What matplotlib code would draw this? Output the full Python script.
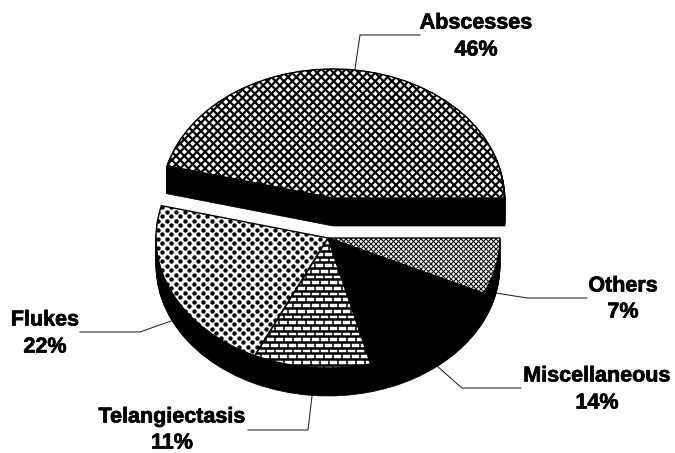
import matplotlib
matplotlib.use('Agg')
import matplotlib.pyplot as plt
import matplotlib.patheffects as pe
import numpy as np
from matplotlib.collections import LineCollection
from matplotlib.patches import Wedge
from matplotlib.transforms import Affine2D

# clockwise from the 3 o'clock position
categories = ['Others', 'Miscellaneous', 'Telangiectasis', 'Flukes', 'Abscesses']
percents = [7, 14, 11, 22, 46]

W, H = 675, 453
RX, RY = 172, 130
DEPTH = 28

# pixel layout
centers = {'Abscesses': (333, 198)}
main_center = (328, 238)
label_pos = {
    'Others': (623, 286, 312),
    'Miscellaneous': (597, 376, 403),
    'Telangiectasis': (172, 417, 443),
    'Flukes': (45, 320, 347),
    'Abscesses': (476, 23, 50),
}
leaders = {
    'Others': [(496, 293), (527, 298), (587, 298)],
    'Miscellaneous': [(437, 366), (462, 388), (521, 388)],
    'Telangiectasis': [(312, 396), (308, 430), (248, 430)],
    'Flukes': [(171, 321), (140, 332), (80, 332)],
    'Abscesses': [(355, 69), (360, 35), (420, 35)],
}


def make_wedge(ax, center, t1, t2, rx=RX, ry=RY, **kw):
    # unit wedge squashed to an ellipse, y axis points down so angles run clockwise
    tr = Affine2D().scale(rx, ry).translate(*center) + ax.transData
    w = Wedge((0, 0), 1, t1, t2, transform=tr, **kw)
    ax.add_patch(w)
    return w


def cross_lines(ax, clip, spacing, lw):
    segs = []
    for c in np.arange(-H, W + H, spacing):
        segs.append([(c, 0), (c + H, H)])
        segs.append([(c + H, 0), (c, H)])
    lc = LineCollection(segs, colors='black', linewidths=lw, zorder=3)
    ax.add_collection(lc, autolim=False)
    lc.set_clip_path(clip)


def dots(ax, clip, dx, dy, size):
    pts = []
    for i, y in enumerate(np.arange(0, H, dy)):
        for x in np.arange(dx / 2 * (i % 2), W, dx):
            pts.append((x, y))
    pts = np.array(pts)
    sc = ax.scatter(pts[:, 0], pts[:, 1], s=size, c='black', marker='o', linewidths=0, zorder=3)
    sc.set_clip_path(clip)


def bricks(ax, clip, dx, dy):
    hsegs = [[(0, y), (W, y)] for y in np.arange(0, H, dy)]
    vsegs = []
    for i, y in enumerate(np.arange(0, H, dy)):
        for x in np.arange(dx / 2 * (i % 2), W, dx):
            vsegs.append([(x, y), (x, y + dy)])
    lc = LineCollection(hsegs, colors='black', linewidths=1.8, zorder=3)
    lv = LineCollection(vsegs, colors='black', linewidths=1.1, zorder=3)
    for c in (lc, lv):
        ax.add_collection(c, autolim=False)
        c.set_clip_path(clip)


fig = plt.figure(figsize=(W / 100, H / 100), dpi=100)
ax = fig.add_axes([0, 0, 1, 1])
ax.set_xlim(0, W)
ax.set_ylim(H, 0)
ax.axis('off')

ends = np.cumsum(percents) * 3.6
starts = ends - np.array(percents) * 3.6

# black side walls first, stacked down from the top face
for name, t1, t2 in zip(categories, starts, ends):
    cx, cy = centers.get(name, main_center)
    for d in range(1, DEPTH + 1):
        make_wedge(ax, (cx, cy + d), t1, t2, fc='black', ec='black', lw=0.5, zorder=1)

for name, t1, t2 in zip(categories, starts, ends):
    center = centers.get(name, main_center)
    rx = 171 if name == 'Abscesses' else RX
    ry = 129 if name == 'Abscesses' else RY
    fill = 'black' if name == 'Miscellaneous' else 'white'
    face = make_wedge(ax, center, t1, t2, rx=rx, ry=ry, fc=fill, ec='none', zorder=2)
    if name == 'Abscesses':
        cross_lines(ax, face, 8.3, 1.6)
    elif name == 'Others':
        cross_lines(ax, face, 5, 0.75)
    elif name == 'Flukes':
        dots(ax, face, 9, 4.5, 10)
    elif name == 'Telangiectasis':
        bricks(ax, face, 9, 5.7)
    make_wedge(ax, center, t1, t2, rx=rx, ry=ry, fc='none', ec='black', lw=1.0, zorder=4)

# the scan has heavy type, so thicken the bold a little
heavy = [pe.withStroke(linewidth=0.5, foreground='black')]
for name, pct in zip(categories, percents):
    x, y1, y2 = label_pos[name]
    ax.text(x, y1, name, ha='center', va='center', family='Liberation Sans',
            fontweight='bold', fontsize=15.5, color='black', path_effects=heavy)
    ax.text(x, y2, str(pct) + '%', ha='center', va='center', family='Liberation Sans',
            fontweight='bold', fontsize=15.5, color='black', path_effects=heavy)
    xs, ys = zip(*leaders[name])
    ax.plot(xs, ys, color='#222222', lw=0.75, zorder=5)

plt.savefig('out.png', dpi=100)
plt.close()
